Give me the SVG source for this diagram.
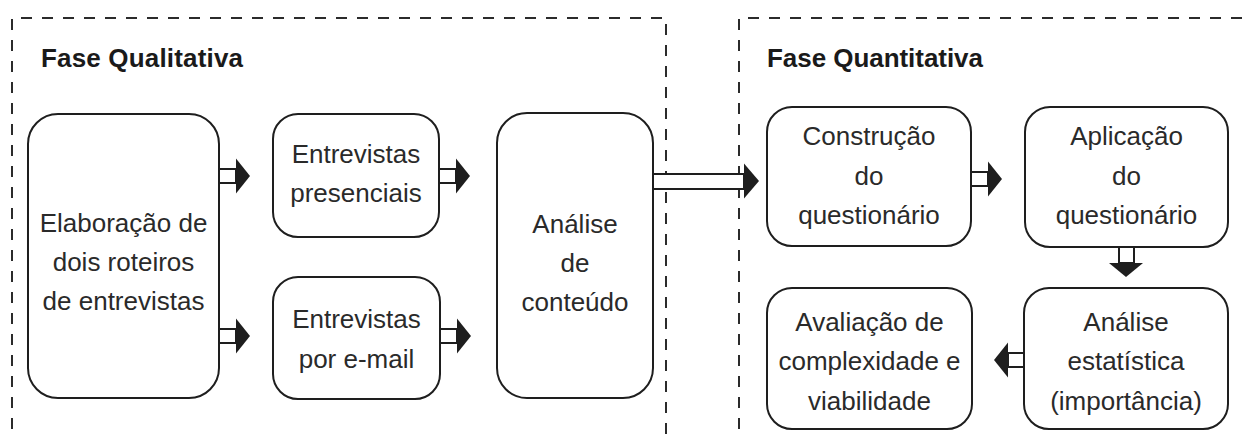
<svg xmlns="http://www.w3.org/2000/svg" width="1250" height="438" viewBox="0 0 1250 438">
<style>
.frame{fill:none;stroke:#2b2b2b;stroke-width:2;stroke-dasharray:11 10}
.box{fill:#fff;stroke:#1e1e1e;stroke-width:2}
.t{font-family:"Liberation Sans","DejaVu Sans",sans-serif;font-size:26px;fill:#2a2a2a;text-anchor:middle}
.title{font-family:"Liberation Sans","DejaVu Sans",sans-serif;font-size:26px;font-weight:bold;fill:#1a1a1a}
.stem{fill:#fff;stroke:#1e1e1e;stroke-width:2}
.head{fill:#1e1e1e;stroke:none}
</style>
<rect width="1250" height="438" fill="#fff"/>
<g id="fase-qualitativa">
<path class="frame" d="M12,450 V18 H666 V450"/>
<text class="title" x="41" y="67" textLength="202" lengthAdjust="spacing">Fase Qualitativa</text>
</g>
<g id="fase-quantitativa">
<path class="frame" d="M739,450 V18 H1260"/>
<text class="title" x="767" y="67" textLength="216" lengthAdjust="spacing">Fase Quantitativa</text>
</g>
<g id="elaboracao">
<rect class="box" x="28" y="114" width="191" height="284" rx="30"/>
<text class="t" x="123.5" y="232">Elaboração de</text>
<text class="t" x="123.5" y="271">dois roteiros</text>
<text class="t" x="123.5" y="310">de entrevistas</text>
</g>
<g id="entrevistas-presenciais">
<rect class="box" x="273" y="114" width="166" height="123" rx="25"/>
<text class="t" x="356" y="163">Entrevistas</text>
<text class="t" x="356" y="202">presenciais</text>
</g>
<g id="entrevistas-email">
<rect class="box" x="273" y="277" width="167" height="122" rx="25"/>
<text class="t" x="356.5" y="328">Entrevistas</text>
<text class="t" x="356.5" y="368">por e-mail</text>
</g>
<g id="analise-conteudo">
<rect class="box" x="497" y="113" width="156" height="285" rx="30"/>
<text class="t" x="575" y="233">Análise</text>
<text class="t" x="575" y="272">de</text>
<text class="t" x="575" y="311">conteúdo</text>
</g>
<g id="construcao">
<rect class="box" x="767" y="107" width="204" height="139" rx="25"/>
<text class="t" x="869" y="145">Construção</text>
<text class="t" x="869" y="185">do</text>
<text class="t" x="869" y="224">questionário</text>
</g>
<g id="aplicacao">
<rect class="box" x="1025" y="107" width="203" height="140" rx="25"/>
<text class="t" x="1126.5" y="145">Aplicação</text>
<text class="t" x="1126.5" y="185">do</text>
<text class="t" x="1126.5" y="224">questionário</text>
</g>
<g id="analise-estatistica">
<rect class="box" x="1024" y="288" width="204" height="141" rx="25"/>
<text class="t" x="1126" y="331">Análise</text>
<text class="t" x="1126" y="370">estatística</text>
<text class="t" x="1126" y="410">(importância)</text>
</g>
<g id="avaliacao">
<rect class="box" x="767" y="288" width="205" height="141" rx="25"/>
<text class="t" x="869.5" y="331">Avaliação de</text>
<text class="t" x="869.5" y="370">complexidade e</text>
<text class="t" x="869.5" y="410">viabilidade</text>
</g>
<g id="connectors">
<rect class="stem" x="219" y="169" width="17" height="14"/>
<polygon class="head" points="236,158.5 250,176 236,193.5"/>
<rect class="stem" x="219" y="329" width="17" height="14"/>
<polygon class="head" points="236,318.5 250,336 236,353.5"/>
<rect class="stem" x="439" y="169" width="17" height="14"/>
<polygon class="head" points="456,158.5 470,176 456,193.5"/>
<rect class="stem" x="440" y="329" width="17" height="14"/>
<polygon class="head" points="457,318.5 471,336 457,353.5"/>
<rect class="stem" x="653" y="174" width="91" height="15"/>
<polygon class="head" points="744,163.5 759,181 744,198.5"/>
<rect class="stem" x="971" y="172" width="17" height="14"/>
<polygon class="head" points="988,161.5 1002,179 988,196.5"/>
<rect class="stem" x="1119" y="247" width="15" height="16"/>
<polygon class="head" points="1109,263 1143,263 1126,277"/>
<rect class="stem" x="1008" y="353" width="16" height="14"/>
<polygon class="head" points="1008,342.5 994,360 1008,377.5"/>
</g>
</svg>
